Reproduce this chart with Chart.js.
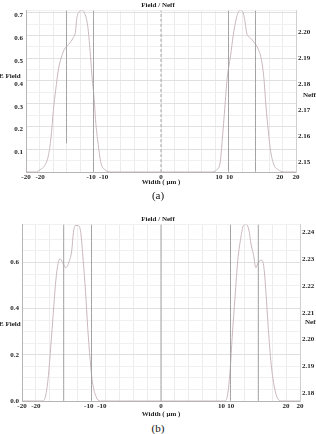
<!DOCTYPE html>
<html>
<head>
<meta charset="utf-8">
<script src="https://cdn.jsdelivr.net/npm/chart.js@4.4.1/dist/chart.umd.min.js"></script>
<style>
  body { margin: 0; background: #fff; width: 316px; height: 434px; overflow: hidden; position: relative; font-family: "Liberation Serif", serif; }
  canvas { position: absolute; left: 0; }
  .side { position: absolute; font-weight: bold; font-size: 7px; color: #222; white-space: nowrap; line-height: 8px; }
  .cap { position: absolute; left: 0; width: 316px; text-align: center; font-size: 11px; color: #111; line-height: 12px; }
</style>
</head>
<body>
<canvas id="chartA" width="316" height="190" style="top:0"></canvas>
<canvas id="chartB" width="316" height="222" style="top:200px"></canvas>
<div class="side" style="left:-1px;top:72px">E Field</div>
<div class="side" style="left:303px;top:91px">Neff</div>
<div class="side" style="left:-1px;top:320px">E Field</div>
<div class="side" style="left:305px;top:318px">Neff</div>
<div class="cap" style="top:189px">(a)</div>
<div class="cap" style="top:422px">(b)</div>
<script>
// panel (a): field profile
const fieldXA = [-20, -18.6, -17.9, -17.2, -16.7, -16.3, -15.95, -15.6, -15.2, -14.8, -14.3, -13.7, -13.0, -12.65, -12.5, -12.1, -11.75, -11.35, -10.85, -10.5, -10.25, -9.9, -9.7, -9.3, -8.9, -8.3, -7.3,
  0,
  7.5, 8.25, 8.75, 9.1, 9.45, 9.8, 10.3, 10.7, 11.2, 11.7, 12.1, 12.45, 12.7, 13.2, 13.8, 14.4, 14.9, 15.25, 15.55, 15.9, 16.25, 16.75, 17.4, 18.1, 20];
const fieldYA = [0, 0, 0.01, 0.03, 0.07, 0.15, 0.27, 0.36, 0.45, 0.50, 0.54, 0.56, 0.59, 0.62, 0.67, 0.705, 0.71, 0.70, 0.64, 0.53, 0.43, 0.32, 0.23, 0.12, 0.04, 0.01, 0,
  0,
  0, 0.01, 0.04, 0.15, 0.28, 0.41, 0.51, 0.60, 0.68, 0.71, 0.705, 0.66, 0.61, 0.59, 0.57, 0.54, 0.49, 0.41, 0.29, 0.18, 0.09, 0.03, 0.01, 0, 0];

// panel (b)
const fieldXB = [-20, -16.95, -16.55, -16.2, -15.85, -15.5, -15.2, -14.9, -14.55, -14.15, -13.7, -13.2, -12.85, -12.6, -12.35, -11.9, -11.55, -11.2, -10.85, -10.55, -10.2, -9.85, -9.35, -8.8,
  0,
  9.2, 9.6, 9.95, 10.25, 10.65, 11.05, 11.5, 11.85, 12.3, 12.65, 12.95, 13.3, 13.65, 14.0, 14.5, 14.8, 15.1, 15.45, 15.85, 16.2, 16.65, 17.4, 20];
const fieldYB = [0, 0, 0.03, 0.11, 0.24, 0.38, 0.50, 0.58, 0.616, 0.60, 0.577, 0.606, 0.65, 0.73, 0.76, 0.76, 0.73, 0.61, 0.47, 0.32, 0.18, 0.08, 0.02, 0,
  0,
  0, 0.03, 0.135, 0.28, 0.45, 0.61, 0.71, 0.76, 0.765, 0.74, 0.68, 0.635, 0.577, 0.60, 0.61, 0.58, 0.47, 0.31, 0.16, 0.08, 0.02, 0, 0];

// dark vertical guide lines (x position, lower end)
const guideXA = [-14, -10, 10, 14];
const guideLowA = [0.126, 0, 0, 0];
const guideXB = [-14, -10, 10, 14];
const guideLowB = [0, 0, 0, 0];

// axes
const fieldMaxA = 0.71;
const fieldMaxB = 0.765;
const neffRangeA = [2.1462, 2.2085];
const neffRangeB = [2.177, 2.243];

const xGrid = [-20, -18, -16, -14, -12, -10, -8, -6, -4, -2, 0, 2, 4, 6, 8, 10, 12, 14, 16, 18, 20];
const xTickPosA = [-20, -17.9, -10.35, -8.5, 0, 8.6, 10.15, 17.6, 20];
const xTickTextA = ["-20", "-20", "-10", "-10", "0", "10", "10", "20", "20"];
const xTickPosB = [-20, -18, -10.4, -8.5, 0, 8.7, 10.05, 18, 20];
const xTickTextB = ["-20", "-20", "-10", "-10", "0", "10", "10", "20", "20"];

const yGridA = [0, 0.05, 0.1, 0.15, 0.2, 0.25, 0.3, 0.35, 0.4, 0.45, 0.5, 0.55, 0.6, 0.65, 0.7, 0.71];
const yLabelsA = [0.1, 0.2, 0.3, 0.4, 0.5, 0.6, 0.7];
const yGridB = [0, 0.05, 0.1, 0.15, 0.2, 0.25, 0.3, 0.35, 0.4, 0.45, 0.5, 0.55, 0.6, 0.65, 0.7, 0.765];
const yLabelsB = [0, 0.2, 0.4, 0.6];

const neffLabelsA = [2.15, 2.16, 2.17, 2.18, 2.19, 2.20];
const neffLabelsB = [2.18, 2.19, 2.20, 2.21, 2.22, 2.23, 2.24];

const fontBold = { family: "'Liberation Serif', serif", size: 7, weight: "bold" };
const curveColor = "#c9b8be";
const guideColor = "#a2a2a2";

const lineSet = (xs, ys, color, dash) => ({
  data: xs.map((x, i) => ({ x, y: ys[i] })),
  borderColor: color,
  borderWidth: 1,
  borderDash: dash || [],
  pointRadius: 0,
  fill: false,
  cubicInterpolationMode: "monotone",
  yAxisID: "y",
});

const makePanel = (id, p) => {
  // x ticks: grid positions plus the (doubled) label positions
  const xInfo = new Map();
  xGrid.forEach((v) => xInfo.set(v, { grid: true, text: "" }));
  p.xTickPos.forEach((v, i) => {
    const t = xInfo.get(v) || { grid: false, text: "" };
    t.text = p.xTickText[i];
    xInfo.set(v, t);
  });
  const xValues = [...xInfo.keys()].sort((a, b) => a - b);
  const yValues = [...new Set([...p.yGrid, ...p.yLabels])].sort((a, b) => a - b);

  const datasets = [];
  p.guideX.forEach((gx, i) => {
    datasets.push(lineSet([gx, gx], [p.guideLow[i], p.fieldMax], guideColor));
  });
  datasets.push(lineSet([0, 0], [0, p.fieldMax], guideColor, p.centerDash));
  datasets.push(lineSet(p.fieldX, p.fieldY, curveColor));

  return new Chart(document.getElementById(id), {
    type: "line",
    data: { datasets },
    options: {
      responsive: false,
      animation: false,
      layout: { padding: 0 },
      plugins: {
        legend: { display: false },
        tooltip: { enabled: false },
        title: {
          display: true,
          text: "Field / Neff",
          color: "#222",
          font: fontBold,
          padding: { top: p.titleTop, bottom: 1 },
        },
      },
      scales: {
        x: {
          type: "linear",
          min: -20,
          max: 20,
          afterBuildTicks: (s) => { s.ticks = xValues.map((value) => ({ value })); },
          afterFit: (s) => { s.height = p.xHeight; },
          ticks: {
            autoSkip: false,
            maxRotation: 0,
            padding: 1,
            color: "#222",
            font: fontBold,
            callback: (v) => (xInfo.get(v) ? xInfo.get(v).text : ""),
          },
          grid: {
            drawTicks: false,
            color: (c) => (c.tick && xInfo.get(c.tick.value) && xInfo.get(c.tick.value).grid ? "#ececec" : "rgba(0,0,0,0)"),
          },
          border: { color: "#b5b5b5" },
          title: {
            display: true,
            text: "Width ( μm )",
            color: "#222",
            font: fontBold,
            padding: { top: 0, bottom: p.xTitleBottom },
          },
        },
        y: {
          position: "left",
          min: 0,
          max: p.fieldMax,
          afterBuildTicks: (s) => { s.ticks = yValues.map((value) => ({ value })); },
          afterFit: (s) => { s.width = p.leftWidth; },
          ticks: {
            autoSkip: false,
            padding: 3,
            labelOffset: p.yLabelOffset,
            color: "#222",
            font: fontBold,
            callback: (v) => (p.yLabels.includes(v) ? v.toFixed(1) : ""),
          },
          grid: {
            drawTicks: false,
            color: (c) => (c.tick && p.yLabels.includes(c.tick.value) ? "#e0e0e0" : "#f0f0f0"),
          },
          border: { color: "#b5b5b5" },
        },
        y2: {
          position: "right",
          min: p.neffRange[0],
          max: p.neffRange[1],
          afterBuildTicks: (s) => { s.ticks = p.neffLabels.map((value) => ({ value })); },
          afterFit: (s) => { s.width = p.rightWidth; },
          ticks: {
            autoSkip: false,
            padding: 2,
            color: "#222",
            font: fontBold,
            callback: (v) => v.toFixed(2),
          },
          grid: { display: false, drawTicks: false },
          border: { color: "#d0d0d0" },
        },
      },
    },
  });
};

makePanel("chartA", {
  fieldX: fieldXA, fieldY: fieldYA, fieldMax: fieldMaxA,
  guideX: guideXA, guideLow: guideLowA, centerDash: [3, 2],
  xTickPos: xTickPosA, xTickText: xTickTextA,
  yGrid: yGridA, yLabels: yLabelsA, yLabelOffset: 3,
  neffRange: neffRangeA, neffLabels: neffLabelsA,
  titleTop: 1, xHeight: 18, xTitleBottom: 4, leftWidth: 26, rightWidth: 20,
});

makePanel("chartB", {
  fieldX: fieldXB, fieldY: fieldYB, fieldMax: fieldMaxB,
  guideX: guideXB, guideLow: guideLowB, centerDash: [],
  xTickPos: xTickPosB, xTickText: xTickTextB,
  yGrid: yGridB, yLabels: yLabelsB, yLabelOffset: 0,
  neffRange: neffRangeB, neffLabels: neffLabelsB,
  titleTop: 15, xHeight: 21, xTitleBottom: 4, leftWidth: 22, rightWidth: 16,
});
</script>
</body>
</html>
